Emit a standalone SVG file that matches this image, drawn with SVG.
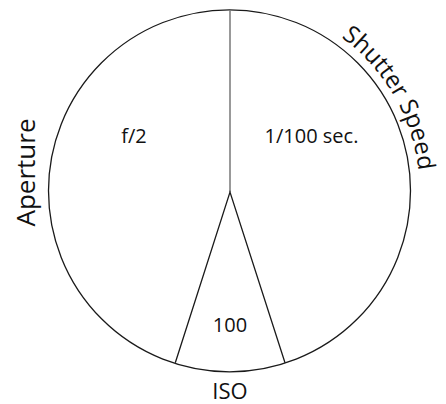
<svg xmlns="http://www.w3.org/2000/svg" xmlns:xlink="http://www.w3.org/1999/xlink" width="446" height="404" viewBox="0 0 446 404">
<style>
text{font-family:"Open Sans","Noto Sans",sans-serif;fill:#111;}
.v{font-size:20px;text-anchor:middle;}
.lbl{font-size:24px;}
.edge{fill:none;stroke:#1a1a1a;stroke-width:1.3;}
</style>
<defs>
<path id="arcS" d="M 341.2 37.3 A 190 190 0 0 1 416.6 224"/>
</defs>
<rect width="446" height="404" fill="#fff"/>
<g id="connectors">
<circle class="edge" cx="229.5" cy="190.8" r="181"/>
<line x1="230" y1="10" x2="230" y2="192" stroke="#777" stroke-width="1.5"/>
<path class="edge" d="M 175.3 362.7 L 230 192 L 285 362.7"/>
</g>
<g id="aperture">
<text class="v" x="134" y="143.3">f/2</text>
<text class="lbl" transform="translate(35,172.5) rotate(-90)" text-anchor="middle" style="font-size:26px">Aperture</text>
</g>
<g id="shutter">
<text class="v" x="311.5" y="143.3">1/100 sec.</text>
<text class="lbl"><textPath xlink:href="#arcS" href="#arcS">Shutter</textPath></text>
<text class="lbl"><textPath xlink:href="#arcS" href="#arcS" startOffset="89">Speed</textPath></text>
</g>
<g id="iso">
<text class="v" x="230" y="331.5">100</text>
<text class="lbl" x="230" y="398.5" text-anchor="middle" style="font-size:22px">ISO</text>
</g>
</svg>
